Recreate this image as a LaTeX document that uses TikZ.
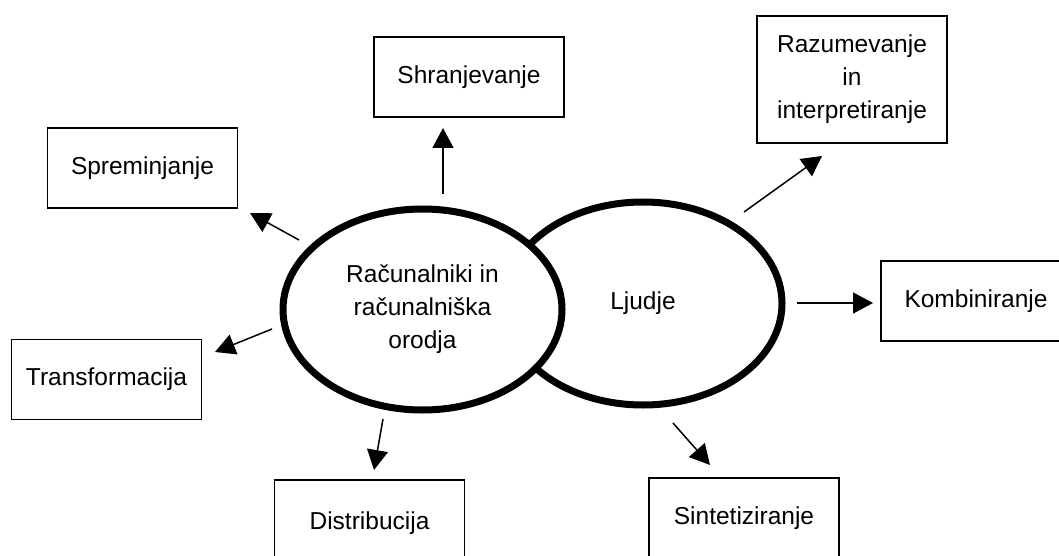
\documentclass[tikz,border=0pt]{standalone}
\usepackage{fontspec}
\setmainfont{Liberation Sans}
\usetikzlibrary{arrows.meta,shapes.geometric,positioning}

\begin{document}
\begin{tikzpicture}
[x=1pt, y=-1pt, font=\fontsize{24.5}{33}\selectfont,
>={Triangle[length=20pt,width=21pt]},
% STYLES
task/.style={rectangle, draw, line width=1.3pt, minimum width=190pt, minimum height=80pt, inner sep=0pt, align=center},
group/.style={ellipse, draw, line width=7pt, inner sep=0pt, fill=white, align=center},
flow/.style={line width=1.5pt}]

\useasboundingbox (0,0) rectangle (1059,556);
\clip (0,0) rectangle (1059,556);

% two groups, the left one lies on top
\node [group, minimum width=278pt, minimum height=203pt] (people) at (643,303.5) {Ljudje};
\node [group, minimum width=279pt, minimum height=201pt] (computers) at (422.5,309.5) {Računalniki in\\računalniška\\orodja};

% activities
\node [task] (shran) at (469,77) {Shranjevanje};
\node [task] (sprem) at (142.5,168) {Spreminjanje};
\node [task] (trans) at (106.5,379.5) {Transformacija};
\node [task, minimum height=127pt] (razum) at (852,79.5) {Razumevanje\\in\\interpretiranje};
\node [task] (kombi) at (976,301) {Kombiniranje};
\node [task, minimum height=86pt] (distr) at (369.5,523) {Distribucija};
\node [task] (sint) at (744,518) {Sintetiziranje};

%%%%%%%%%%%%%%%%

\coordinate (shran-from) at (443,194);  \coordinate (shran-to) at (443,128);
\coordinate (sprem-from) at (299,240);  \coordinate (sprem-to) at (250,213);
\coordinate (trans-from) at (272,329);  \coordinate (trans-to) at (215,352);
\coordinate (distr-from) at (383,419);  \coordinate (distr-to) at (374,470);
\coordinate (sint-from) at (673,423);   \coordinate (sint-to) at (710,465);
\coordinate (kombi-from) at (797,303);  \coordinate (kombi-to) at (873,303);
\coordinate (razum-from) at (744,212);  \coordinate (razum-to) at (822,156);

\path[->,flow]
(shran-from) edge (shran-to)
(sprem-from) edge (sprem-to)
(trans-from) edge (trans-to)
(distr-from) edge (distr-to)
(sint-from) edge (sint-to)
(kombi-from) edge (kombi-to)
(razum-from) edge (razum-to);

\end{tikzpicture}
\end{document}
